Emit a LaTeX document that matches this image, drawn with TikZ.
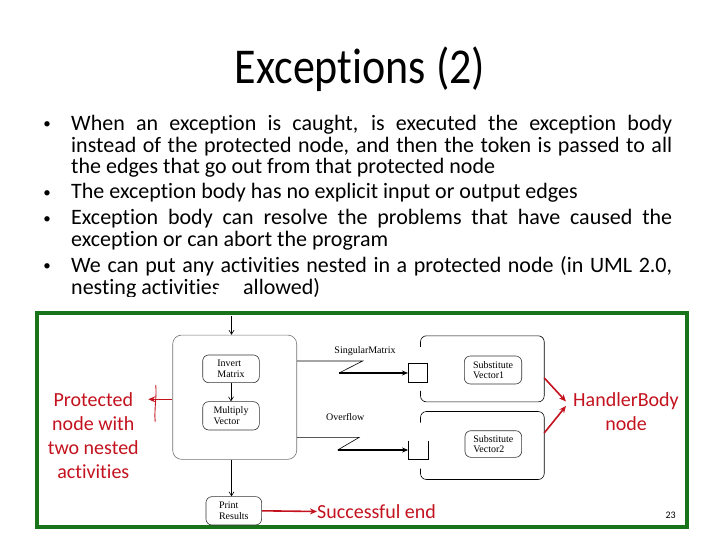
\documentclass[tikz,border=0pt]{standalone}
\usepackage{fontspec}
\setmainfont{Carlito}[Ligatures=NoCommon]
\newfontfamily\diagfont{Liberation Serif}
\usetikzlibrary{arrows.meta,calc}
\definecolor{frameg}{RGB}{25,115,25}
\definecolor{hred}{RGB}{196,18,30}
\begin{document}
\begin{tikzpicture}[x=1pt,y=-1pt,
  body/.style={anchor=base west,inner sep=0,font=\fontsize{22}{24}\selectfont},
  bul/.style={anchor=base,inner sep=0,font=\fontsize{15}{15}\selectfont},
  act/.style={draw=black!80,line width=0.6pt,rounded corners=6pt,inner sep=0,font=\diagfont\fontsize{10}{10.5}\selectfont,align=left},
  lbl/.style={font=\diagfont\fontsize{10}{10.5}\selectfont,inner sep=0},
  note/.style={text=hred,font=\fontsize{20}{24}\selectfont,align=center,inner sep=0},
  flow/.style={line width=0.6pt,-{Straight Barb[length=4pt,width=5pt]}},
  exc/.style={line width=1.4pt,-{Stealth[length=6pt,width=5pt]}},
  redarrow/.style={hred,line width=1.6pt,-{Stealth[length=7pt,width=6pt]}}
]
\useasboundingbox (0,0) rectangle (720,540);
\fill[white] (0,0) rectangle (720,540);

% title
\node[anchor=base,inner sep=0,font=\fontsize{44}{44}\selectfont] (title) at (360,83.3) {\scalebox{1}[1.14]{Exceptions (2)}};

% bullets
\node[bul] (b1) at (47,129) {•};
\node[body] (l1) at (71,131) {\makebox[601pt][s]{When an exception is caught, is executed the exception body}};
\node[body] (l2) at (71,153) {\makebox[601pt][s]{instead of the protected node, and then the token is passed to all}};
\node[body] (l3) at (71,174) {the edges that go out from that protected node};
\node[bul] (b2) at (47,197) {•};
\node[body] (l4) at (71,199) {The exception body has no explicit input or output edges};
\node[bul] (b3) at (47,223) {•};
\node[body] (l5) at (71,225) {\makebox[601pt][s]{Exception body can resolve the problems that have caused the}};
\node[body] (l6) at (71,246) {exception or can abort the program};
\node[bul] (b4) at (47,270) {•};
\node[body] (l7) at (71,272) {\makebox[601pt][s]{We can put any activities nested in a protected node (in UML 2.0,}};
\node[body] (l8a) at (71,294) {nesting activities};
\node[body] (l8b) at (243,294) {allowed)};

% parts of the picture that hide the text
\fill[white] (216,288.5) rectangle (240,313);
\fill[white] (38,296.7) rectangle (689,313);

% frame
\draw[frameg,line width=4pt,fill=white] (37.3,312.7) rectangle (686.7,526.7);

% protected node
\node[act,draw=black!55,rounded corners=9pt,minimum width=124pt,minimum height=124.3pt] (prot) at (234.7,397.2) {};
\node[act,minimum width=56.6pt,minimum height=27.7pt] (inv) at (231,368.8) {Invert\\Matrix};
\node[act,minimum width=56.6pt,minimum height=28.3pt] (mul) at (231,415.8) {Multiply\\Vector};
\node[act,minimum width=55.7pt,minimum height=28.3pt] (prn) at (233.8,510.8) {Print\\Results};
\coordinate (start) at (231.5,315.5);
\draw[flow] (start) -- (start |- prot.north);
\draw[flow] (inv) -- (mul);
\draw[flow] (prot.south -| start) -- (prn.north -| start);

% exception handlers
\node[lbl] (sing) at (365,350.7) {SingularMatrix};
\node[lbl] (ovf) at (345.3,416.7) {Overflow};
\node[draw,line width=0.7pt,minimum width=19.4pt,minimum height=18.7pt,inner sep=0] (sq1) at (418,373) {};
\node[minimum width=19.4pt,minimum height=18.4pt,inner sep=0] (sq2) at (418,450) {};
\draw[line width=0.7pt] (sq2.north west) -- (sq2.south west) -- (sq2.south east) -- (sq2.north east);
\coordinate (z1a) at (362.7,361);
\coordinate (z1b) at (339,373);
\coordinate (z2a) at (359.3,437.3);
\coordinate (z2b) at (337.7,450);
\draw[line width=0.6pt] (prot.east |- z1a) -- (z1a) -- (z1b);
\draw[exc] (z1b) -- (sq1.west);
\draw[line width=0.6pt] (prot.east |- z2a) -- (z2a) -- (z2b);
\draw[exc] (z2b) -- (sq2.west);

% handler bodies
\node[minimum width=123.3pt,minimum height=65.7pt,inner sep=0] (hb1) at (482.35,368.85) {};
\node[minimum width=123.3pt,minimum height=67.6pt,inner sep=0] (hb2) at (482.35,445.5) {};
\draw[line width=0.6pt,rounded corners=6pt] ($(hb1.north west)+(0,11)$) -- (hb1.north west) -- (hb1.north east) -- (hb1.south east) -- (hb1.south west) -- ($(hb1.south west)+(0,-11)$);
\draw[line width=0.6pt,rounded corners=6pt] ($(hb2.north west)+(0,11)$) -- (hb2.north west) -- (hb2.north east) -- (hb2.south east) -- (hb2.south west) -- ($(hb2.south west)+(0,-11)$);
\node[act,minimum width=57.4pt,minimum height=28pt] (sv1) at (493,370) {Substitute\\Vector1};
\node[act,minimum width=56.7pt,minimum height=26.6pt] (sv2) at (493.3,444) {Substitute\\Vector2};

% red annotations
\node[note] (plab) at (93.3,435.5) {Protected\\node with\\two nested\\activities};
\coordinate (ptip) at (148.3,399.3);
\draw[redarrow] (prot.west |- ptip) -- (ptip);
\coordinate (brt) at (155.7,385);
\coordinate (brb) at (155.2,421.7);
\draw[hred,line width=0.9pt] (brt) .. controls (157,395) and (154,410) .. (brb);

\node[note] (hlab) at (626,412) {HandlerBody\\node};
\coordinate (htip1) at (566,401.5);
\coordinate (htip2) at (566,406);
\draw[redarrow] ($(hb1.east)+(0,9)$) -- (htip1);
\draw[redarrow] ($(hb2.east)+(0,-12.5)$) -- (htip2);

\node[note,anchor=west] (succ) at (317,511.5) {Successful end};
\draw[redarrow] (prn.east) -- (succ.west);

\node[inner sep=0,font=\fontsize{10}{10}\selectfont] (pg) at (670.7,515) {23};
\end{tikzpicture}
\end{document}
